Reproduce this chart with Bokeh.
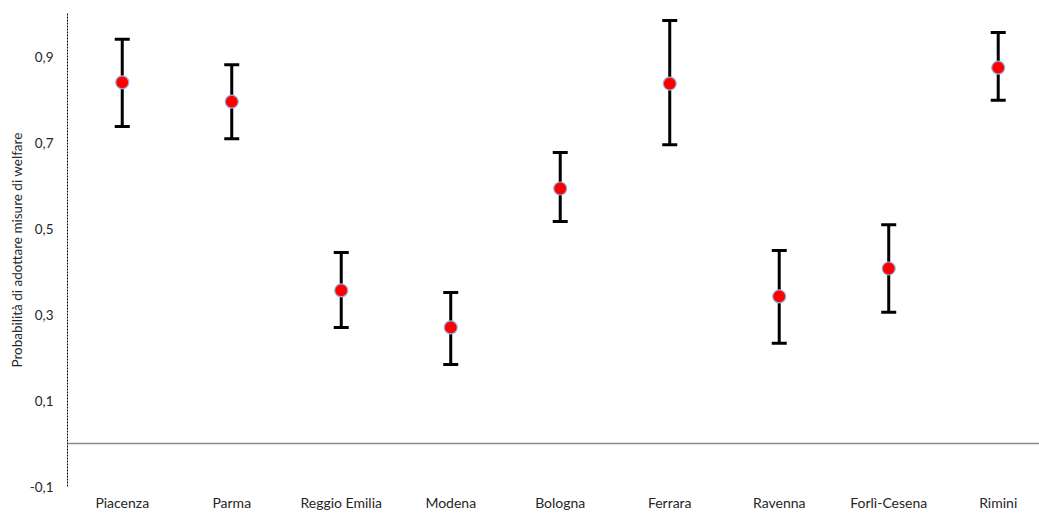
from bokeh.plotting import figure
from bokeh.models import (ColumnDataSource, Whisker, FixedTicker, Span,
                          CustomJSTickFormatter, Range1d, TeeHead)
from bokeh.embed import file_html
from bokeh.resources import INLINE

# Provinces of Emilia-Romagna and estimated probabilities with confidence bounds
provinces = ["Piacenza", "Parma", "Reggio Emilia", "Modena", "Bologna",
             "Ferrara", "Ravenna", "Forlì-Cesena", "Rimini"]
prob = [0.840, 0.795, 0.356, 0.270, 0.593, 0.837, 0.342, 0.407, 0.874]
upper = [0.940, 0.881, 0.444, 0.351, 0.677, 0.984, 0.449, 0.509, 0.956]
lower = [0.737, 0.709, 0.270, 0.184, 0.516, 0.695, 0.233, 0.305, 0.798]
y_ticks = [-0.1, 0.1, 0.3, 0.5, 0.7, 0.9]

xs = list(range(len(provinces)))
src = ColumnDataSource(dict(x=xs, prob=prob, upper=upper, lower=lower))

FONT = "Lato"
TXT = "#262626"

p = figure(width=1039, height=513, output_backend="svg", toolbar_location=None,
           x_range=Range1d(-0.5, 8.377), y_range=Range1d(-0.1, 1.0),
           min_border_left=67, min_border_right=0, min_border_top=13,
           min_border_bottom=27)
p.outline_line_color = None
p.xgrid.visible = False
p.ygrid.visible = False
p.background_fill_color = "white"
p.border_fill_color = "white"

# zero reference line
p.add_layout(Span(location=0, dimension="width", line_color="#8c8c8c",
                  line_width=1.5))

# confidence intervals
head_u = TeeHead(size=15, line_width=3, line_color="black")
head_l = TeeHead(size=15, line_width=3, line_color="black")
p.add_layout(Whisker(source=src, base="x", upper="upper", lower="lower",
                     line_width=3, line_color="black",
                     upper_head=head_u, lower_head=head_l))

# point estimates
p.scatter("x", "prob", source=src, size=13, fill_color="#ff0000",
          line_color="#8fb4e3", line_width=1.2)

# y axis
p.yaxis.ticker = FixedTicker(ticks=y_ticks)
p.yaxis.formatter = CustomJSTickFormatter(
    code="return tick.toFixed(1).replace('.', ',');")
p.yaxis.axis_line_dash = "2 1"
p.yaxis.axis_line_color = "black"
p.yaxis.axis_line_width = 1
p.yaxis.major_tick_line_color = None
p.yaxis.minor_tick_line_color = None
p.yaxis.major_tick_out = 0
p.yaxis.major_tick_in = 0
p.yaxis.minor_tick_out = 0
p.yaxis.minor_tick_in = 0
p.yaxis.major_label_standoff = 14
p.yaxis.major_label_text_font = FONT
p.yaxis.major_label_text_font_size = "13.5px"
p.yaxis.major_label_text_color = TXT
p.yaxis.axis_label = "Probabilità di adottare misure di welfare"
p.yaxis.axis_label_text_font = FONT
p.yaxis.axis_label_text_font_size = "13.5px"
p.yaxis.axis_label_text_font_style = "normal"
p.yaxis.axis_label_text_color = TXT
p.yaxis.axis_label_standoff = 2

# x axis: province names only
p.xaxis.ticker = FixedTicker(ticks=xs)
p.xaxis.major_label_overrides = {i: name for i, name in enumerate(provinces)}
p.xaxis.axis_line_color = None
p.xaxis.major_tick_line_color = None
p.xaxis.minor_tick_line_color = None
p.xaxis.major_tick_out = 0
p.xaxis.major_tick_in = 0
p.xaxis.minor_tick_out = 0
p.xaxis.minor_tick_in = 0
p.xaxis.major_label_standoff = 7
p.xaxis.major_label_text_font = FONT
p.xaxis.major_label_text_font_size = "14px"
p.xaxis.major_label_text_color = TXT

open("out.html", "w").write(file_html(p, INLINE))
